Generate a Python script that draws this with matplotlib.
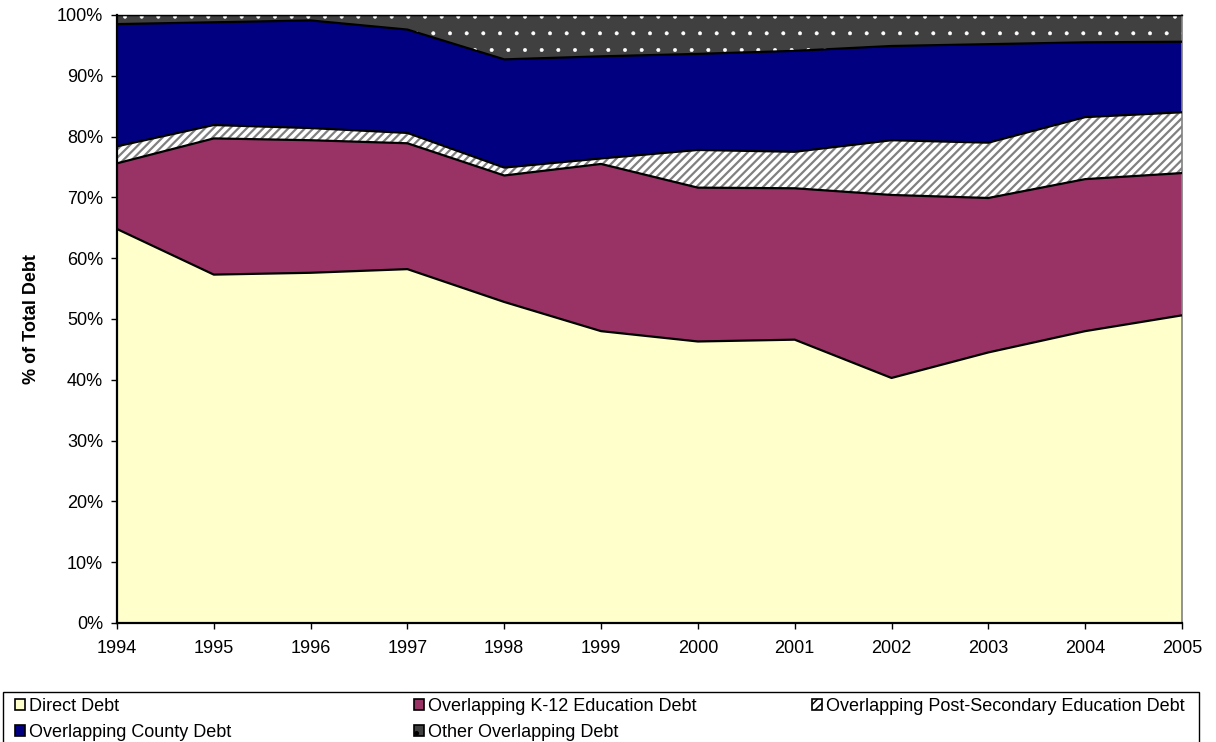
import numpy as np
import matplotlib.pyplot as plt
from matplotlib.patches import Patch, Rectangle

plt.rcParams['font.family'] = ['Liberation Sans', 'DejaVu Sans']

years = [1994, 1995, 1996, 1997, 1998, 1999, 2000, 2001, 2002, 2003, 2004, 2005]

# share of total debt, percent
direct_debt = [64.8, 57.3, 57.6, 58.2, 52.8, 48.0, 46.3, 46.6, 40.3, 44.5, 48.0, 50.6]
k12_debt = [10.8, 22.4, 21.8, 20.7, 20.8, 27.5, 25.3, 24.9, 30.1, 25.4, 25.0, 23.4]
post_secondary_debt = [2.8, 2.2, 2.0, 1.7, 1.3, 0.9, 6.2, 6.0, 9.0, 9.1, 10.2, 10.0]
county_debt = [20.1, 16.9, 17.7, 17.0, 17.8, 16.8, 15.8, 16.6, 15.5, 16.2, 12.3, 11.6]
other_debt = [1.5, 1.2, 0.9, 2.4, 7.3, 6.8, 6.4, 5.9, 5.1, 4.8, 4.5, 4.4]

labels = ['Direct Debt', 'Overlapping K-12 Education Debt',
          'Overlapping Post-Secondary Education Debt',
          'Overlapping County Debt', 'Other Overlapping Debt']
series = [direct_debt, k12_debt, post_secondary_debt, county_debt, other_debt]
faces = ['#FFFFCC', '#993366', 'white', '#000080', '#404040']
hatches = [None, None, '////', None, '.']
hatch_colors = [None, None, '#808080', None, 'white']
hatch_widths = [1.0, 1.0, 1.6, 1.0, 0.4]

FS = 13

fig = plt.figure(figsize=(12.16, 7.42), dpi=100)
ax = fig.add_axes([0.0962, 0.1604, 0.8758, 0.8194])

x = np.array(years)
bottom = np.zeros(len(years))
handles = []
for vals, lab, fc, h, hc, hw in zip(series, labels, faces, hatches, hatch_colors, hatch_widths):
    top = bottom + np.array(vals)
    ax.fill_between(x, bottom, top, facecolor=fc, linewidth=0, zorder=1)
    if h:
        with plt.rc_context({'hatch.linewidth': hw}):
            ax.fill_between(x, bottom, top, facecolor='none', edgecolor=hc,
                            hatch=h, linewidth=0, zorder=2)
    ax.plot(x, top, color='black', linewidth=1.6, zorder=3)
    with plt.rc_context({'hatch.linewidth': 1.0}):
        handles.append(Patch(facecolor=fc, edgecolor='black', hatch=h, linewidth=1.2, label=lab))
    bottom = top

ax.set_xlim(1994, 2005)
ax.set_ylim(0, 100)
ax.set_xticks(years)
ax.set_yticks(range(0, 101, 10))
ax.set_yticklabels([f'{v}%' for v in range(0, 101, 10)])
ax.tick_params(axis='both', direction='out', length=4, width=1, labelsize=FS, colors='black')
ax.tick_params(axis='x', pad=8)
ax.tick_params(axis='y', pad=6)
ax.set_ylabel('% of Total Debt', fontsize=FS, fontweight='bold')
ax.yaxis.set_label_coords(-0.072, 0.5)

for side in ['left', 'bottom']:
    ax.spines[side].set_linewidth(1.6)
ax.spines['top'].set_linewidth(1.0)
ax.spines['right'].set_color('#808080')
ax.spines['right'].set_linewidth(1.2)

# legend: three columns, row by row, inside one box
W, H = 1216, 742
columns = [[0, 3], [1, 4], [2]]
col_x = [15, 414, 812]
for idx, cx in zip(columns, col_x):
    fig.legend([handles[i] for i in idx], [labels[i] for i in idx],
               loc='upper left', bbox_to_anchor=(cx / W, 1 - 698 / H),
               fontsize=FS, frameon=False, handlelength=0.55, handleheight=0.6,
               handletextpad=0.2, borderpad=0, labelspacing=0.5,
               borderaxespad=0)
fig.add_artist(Rectangle((3 / W, -0.02), 1196 / W, 0.02 + 1 - 692 / H,
                         transform=fig.transFigure, facecolor='none',
                         edgecolor='black', linewidth=1.0))

fig.savefig('out.png', dpi=100)
